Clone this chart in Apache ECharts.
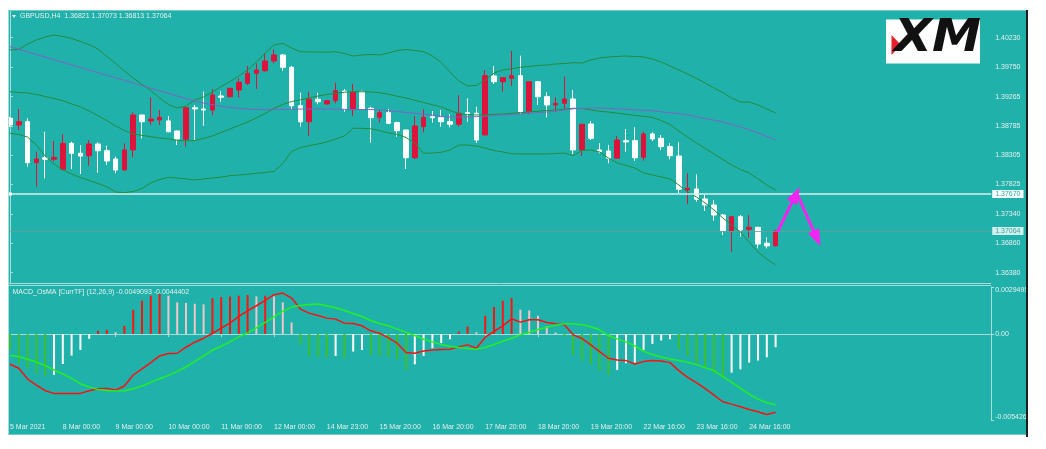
<!DOCTYPE html>
<html><head><meta charset="utf-8">
<script src="https://cdn.jsdelivr.net/npm/echarts@6/dist/echarts.min.js"></script>
<style>html,body{margin:0;padding:0;background:#fff;}#c{width:1046px;height:449px;}</style>
</head><body><div id="c"></div>
<script>
// ---------- DATA ----------
const symbolName = 'GBPUSD,H4';
const indicatorName = 'MACD_OsMA [CurrTF] (12,26,9)';
const tickLabels = ['5 Mar 2021','8 Mar 00:00','9 Mar 00:00','10 Mar 00:00','11 Mar 00:00','12 Mar 00:00','14 Mar 23:00','15 Mar 20:00','16 Mar 20:00','17 Mar 20:00','18 Mar 20:00','19 Mar 20:00','22 Mar 16:00','23 Mar 16:00','24 Mar 16:00'];
const barsPerTick = 6;
const priceTicks = [1.36380,1.36860,1.37340,1.37825,1.38305,1.38785,1.39265,1.39750,1.40230];
const macdTicks = [-0.005426, 0, 0.0029495];
const macdTickText = ['-0.005426', '0.00', '0.0029495'];
const levelLine = 1.37670;
const bidLine = 1.37064;

const open = [1.38910,1.38800,1.38854,1.38183,1.38264,1.38238,1.38074,1.38500,1.38336,1.38297,
1.38489,1.38379,1.38243,1.38063,1.38391,1.38964,1.38866,1.38882,1.38866,1.38702,
1.38566,1.39083,1.39062,1.39046,1.39275,1.39264,1.39373,1.39483,1.39647,1.39689,
1.39848,1.39947,1.39745,1.39116,1.38854,1.39221,1.39144,1.39198,1.39357,1.39062,
1.39346,1.39074,1.38926,1.39002,1.38838,1.38718,1.38264,1.38772,1.38936,1.38920,
1.38854,1.38812,1.39002,1.38992,1.38636,1.39603,1.39509,1.39565,1.39608,1.39018,
1.39509,1.39264,1.39128,1.39155,1.39226,1.38391,1.38816,1.38391,1.38374,1.38255,
1.38543,1.38543,1.38271,1.38653,1.38582,1.38445,1.38292,1.37735,1.37752,1.37588,
1.37490,1.37326,1.37069,1.37298,1.37092,1.37124,1.36862,1.36821];
const close = [1.38800,1.38854,1.38183,1.38243,1.38238,1.38271,1.38500,1.38336,1.38292,1.38489,
1.38379,1.38210,1.38063,1.38391,1.38964,1.38854,1.38898,1.38926,1.38690,1.38571,
1.39083,1.39062,1.39046,1.39291,1.39254,1.39401,1.39499,1.39647,1.39701,1.39848,
1.39947,1.39745,1.39116,1.38854,1.39221,1.39182,1.39198,1.39362,1.39062,1.39336,
1.39062,1.38920,1.39002,1.38828,1.38707,1.38264,1.38784,1.38926,1.38920,1.38854,
1.38812,1.38992,1.38980,1.38554,1.39608,1.39509,1.39575,1.39608,1.39018,1.39509,
1.39264,1.39128,1.39155,1.39226,1.38391,1.38812,1.38582,1.38363,1.38255,1.38554,
1.38522,1.38264,1.38653,1.38571,1.38445,1.38297,1.37747,1.37763,1.37583,1.37490,
1.37326,1.37069,1.37298,1.37080,1.37124,1.36851,1.36821,1.37064];
const low = [1.38767,1.38718,1.38117,1.37789,1.37927,1.38199,1.38074,1.38079,1.37997,1.38133,
1.38019,1.38145,1.38009,1.38063,1.38271,1.38582,1.38800,1.38800,1.38680,1.38472,
1.38445,1.38554,1.38788,1.38964,1.39182,1.39254,1.39247,1.39455,1.39390,1.39673,
1.39811,1.39689,1.39057,1.38772,1.38620,1.39139,1.39139,1.39155,1.39018,1.38947,
1.39046,1.38510,1.38838,1.38816,1.38608,1.38079,1.38243,1.38680,1.38838,1.38772,
1.38762,1.38772,1.38854,1.38510,1.38636,1.39472,1.39346,1.39439,1.38980,1.38975,
1.39128,1.38926,1.39018,1.39057,1.38325,1.38292,1.38554,1.38336,1.38173,1.38255,
1.38363,1.38210,1.38215,1.38538,1.38391,1.38238,1.37681,1.37506,1.37544,1.37391,
1.37232,1.36998,1.36725,1.36970,1.36954,1.36780,1.36780,1.36813];
const high = [1.38931,1.39062,1.38910,1.38363,1.38690,1.38538,1.38648,1.38526,1.38472,1.38554,
1.38517,1.38461,1.38281,1.38500,1.39008,1.38964,1.39254,1.39046,1.38947,1.38707,
1.39100,1.39128,1.39346,1.39385,1.39357,1.39401,1.39565,1.39766,1.39811,1.39974,
1.40040,1.39963,1.39766,1.39329,1.39346,1.39329,1.39205,1.39493,1.39390,1.39472,
1.39362,1.39100,1.39046,1.39062,1.38854,1.38718,1.38947,1.39057,1.39029,1.39046,
1.38980,1.39291,1.39237,1.39100,1.39701,1.39766,1.39575,1.40012,1.39935,1.39509,
1.39509,1.39336,1.39254,1.39591,1.39373,1.38812,1.38866,1.38500,1.38472,1.38620,
1.38735,1.38762,1.38690,1.38680,1.38636,1.38500,1.38517,1.38009,1.37993,1.37665,
1.37572,1.37342,1.37298,1.37326,1.37326,1.37134,1.36961,1.37073];

const bbUpper = [1.40029,1.40037,1.40127,1.40192,1.40241,1.40274,1.40250,1.40217,1.40168,1.40115,
1.40045,1.39922,1.39807,1.39685,1.39570,1.39463,1.39365,1.39242,1.39136,1.39078,
1.39111,1.39210,1.39259,1.39341,1.39431,1.39509,1.39603,1.39701,1.39832,1.39979,
1.40110,1.40138,1.40061,1.40001,1.39996,1.39996,1.39991,1.40001,1.39971,1.39930,
1.39947,1.39955,1.39947,1.39979,1.40020,1.40037,1.40020,1.40001,1.39930,1.39824,
1.39668,1.39521,1.39439,1.39447,1.39537,1.39652,1.39701,1.39722,1.39745,1.39758,
1.39775,1.39783,1.39799,1.39807,1.39820,1.39816,1.39865,1.39897,1.39914,1.39922,
1.39930,1.39922,1.39914,1.39881,1.39832,1.39766,1.39701,1.39635,1.39562,1.39488,
1.39406,1.39332,1.39242,1.39177,1.39177,1.39128,1.39062,1.38997];
const bbMiddle = [1.39346,1.39332,1.39324,1.39300,1.39267,1.39234,1.39198,1.39144,1.39098,1.39029,
1.38952,1.38874,1.38784,1.38710,1.38653,1.38631,1.38608,1.38587,1.38571,1.38549,
1.38538,1.38546,1.38579,1.38620,1.38677,1.38735,1.38792,1.38849,1.38915,1.38988,
1.39074,1.39136,1.39185,1.39213,1.39242,1.39275,1.39300,1.39319,1.39336,1.39346,
1.39344,1.39341,1.39329,1.39303,1.39272,1.39242,1.39205,1.39169,1.39131,1.39095,
1.39038,1.38988,1.38972,1.38964,1.38969,1.38975,1.38980,1.38992,1.39002,1.39016,
1.39026,1.39038,1.39046,1.39057,1.39074,1.39070,1.39046,1.39024,1.39013,1.38993,
1.38975,1.38956,1.38941,1.38923,1.38874,1.38808,1.38702,1.38603,1.38505,1.38418,
1.38325,1.38235,1.38145,1.38071,1.38014,1.37916,1.37817,1.37735];
const bbLower = [1.38664,1.38644,1.38603,1.38472,1.38292,1.38161,1.38063,1.37997,1.37940,1.37891,
1.37842,1.37789,1.37703,1.37691,1.37711,1.37760,1.37850,1.37907,1.37943,1.37932,
1.37916,1.37899,1.37916,1.37932,1.37948,1.37970,1.37981,1.37994,1.38009,1.38022,
1.38038,1.38169,1.38366,1.38432,1.38461,1.38489,1.38522,1.38571,1.38620,1.38746,
1.38746,1.38738,1.38707,1.38669,1.38644,1.38595,1.38505,1.38336,1.38341,1.38353,
1.38391,1.38472,1.38472,1.38456,1.38423,1.38382,1.38358,1.38328,1.38325,1.38325,
1.38325,1.38325,1.38333,1.38341,1.38300,1.38382,1.38391,1.38358,1.38259,1.38178,
1.38137,1.38096,1.38014,1.37981,1.37948,1.37916,1.37817,1.37703,1.37621,1.37522,
1.37408,1.37277,1.37162,1.37047,1.36884,1.36720,1.36605,1.36507];
const maSlow = [1.40083,1.40040,1.39997,1.39955,1.39912,1.39870,1.39827,1.39784,1.39742,1.39699,
1.39657,1.39614,1.39573,1.39531,1.39488,1.39445,1.39403,1.39360,1.39318,1.39275,
1.39232,1.39193,1.39160,1.39133,1.39106,1.39087,1.39074,1.39062,1.39054,1.39051,
1.39052,1.39055,1.39059,1.39062,1.39062,1.39062,1.39062,1.39059,1.39057,1.39055,
1.39054,1.39052,1.39049,1.39038,1.39021,1.39005,1.38992,1.38977,1.38959,1.38941,
1.38931,1.38931,1.38934,1.38936,1.38944,1.38956,1.38964,1.38969,1.38980,1.38992,
1.39002,1.39013,1.39026,1.39046,1.39065,1.39074,1.39075,1.39079,1.39074,1.39065,
1.39057,1.39049,1.39041,1.39033,1.39016,1.39000,1.38988,1.38964,1.38939,1.38906,
1.38879,1.38849,1.38808,1.38767,1.38723,1.38669,1.38612,1.38554];

const macdLine = [-0.0018996,-0.0021515,-0.0028232,-0.0032010,-0.0035578,-0.0037257,-0.0037257,-0.0037257,-0.0037257,-0.0035578,
-0.0034319,-0.0034109,-0.0035158,-0.0032639,-0.0025713,-0.0021935,-0.0017946,-0.0013748,-0.0012279,-0.0012069,
-0.0008291,-0.0005143,-0.0002624,0.0000315,0.0003673,0.0006822,0.0011020,0.0014588,0.0017737,0.0021095,
0.0024663,0.0025713,0.0022564,0.0015638,0.0013119,0.0011650,0.0009970,0.0009341,0.0006822,0.0006612,
0.0005143,0.0001994,0.0000525,-0.0002414,-0.0005772,-0.0011650,-0.0012069,-0.0010600,-0.0009970,-0.0009760,
-0.0009550,-0.0008081,-0.0006822,-0.0008921,-0.0001994,0.0001574,0.0005143,0.0009550,0.0007451,0.0008921,
0.0008921,0.0007242,0.0006402,0.0005772,-0.0000525,-0.0002834,-0.0006822,-0.0011020,-0.0015218,-0.0016267,
-0.0016687,-0.0018786,-0.0017317,-0.0016687,-0.0016897,-0.0017946,-0.0022984,-0.0027182,-0.0030540,-0.0034319,
-0.0038307,-0.0042505,-0.0043974,-0.0045653,-0.0047332,-0.0048802,-0.0050481,-0.0049093];
const signalLine = [-0.0013539,-0.0014168,-0.0015847,-0.0017527,-0.0019836,-0.0022564,-0.0025083,-0.0027812,-0.0031170,-0.0033269,
-0.0034738,-0.0035368,-0.0035788,-0.0035578,-0.0034319,-0.0032639,-0.0030331,-0.0028022,-0.0025923,-0.0023404,
-0.0020675,-0.0017107,-0.0013748,-0.0010180,-0.0007661,-0.0004933,-0.0001784,0.0000735,0.0003883,0.0007242,
0.0010810,0.0014378,0.0016897,0.0017946,0.0018576,0.0018786,0.0017737,0.0016477,0.0014798,0.0012909,
0.0011020,0.0008501,0.0006612,0.0005143,0.0003044,0.0001154,-0.0000945,-0.0003253,-0.0004933,-0.0006612,
-0.0007661,-0.0008501,-0.0009131,-0.0009550,-0.0008501,-0.0006612,-0.0004513,-0.0002624,-0.0000525,0.0001154,
0.0002834,0.0004093,0.0005562,0.0006402,0.0006402,0.0005772,0.0004513,0.0002624,-0.0000945,-0.0003044,
-0.0004933,-0.0007451,-0.0010810,-0.0012909,-0.0014378,-0.0015638,-0.0016687,-0.0017737,-0.0019206,-0.0021095,
-0.0022984,-0.0026762,-0.0030121,-0.0034109,-0.0037677,-0.0040826,-0.0043134,-0.0044402];
const osma = [-0.000997,-0.001837,-0.002151,-0.002466,-0.002613,-0.002550,-0.001879,-0.001354,-0.000997,-0.000304,
0.000199,0.000262,0.000115,0.000514,0.001522,0.002109,0.002403,0.002508,0.002403,0.001984,
0.001942,0.001900,0.001858,0.002256,0.002319,0.002361,0.002403,0.002445,0.002361,0.002403,
0.002361,0.001984,0.000724,-0.000682,-0.001417,-0.001459,-0.001501,-0.001375,-0.001522,-0.001102,
-0.000997,-0.001312,-0.001375,-0.001438,-0.001585,-0.002256,-0.001900,-0.001375,-0.000892,-0.000577,
-0.000325,0.000157,0.000472,0.000115,0.001144,0.001690,0.002089,0.002256,0.001522,0.001480,
0.001144,0.000472,0.0000945,-0.000157,-0.001312,-0.001669,-0.001900,-0.002298,-0.002571,-0.002256,
-0.001837,-0.001795,-0.000997,-0.000619,-0.000409,-0.000325,-0.000997,-0.001375,-0.001837,-0.002151,
-0.002466,-0.002739,-0.002424,-0.002214,-0.001795,-0.001669,-0.001459,-0.000829];

// forecast arrows (bar index, price)
const arrowUp = [[87.2, 1.37047], [89.3, 1.37660]];
const arrowDown = [[89.4, 1.37686], [91.7, 1.36940]];

// ---------- CHART ----------
const SLOTS = 112;
const TEAL = '#20b2aa', FRAME = '#a6ddd8', TXT = '#e6eeee', FONT = 'Liberation Sans', MAGENTA = '#f624f0';
const cats = Array.from({length: SLOTS}, (_, i) => String(i));
const candles = open.map((o, i) => [o, close[i], low[i], high[i]]);
const histData = osma.map((v, i) => {
  const prev = i > 0 ? osma[i - 1] : 0;
  const rising = v > prev;
  const c = v >= 0 ? (rising ? '#ff1414' : '#f3c4ca') : (rising ? '#ffffff' : '#3cbf2c');
  return {value: v, itemStyle: {color: c}};
});
const showTick = (idx) => idx % barsPerTick === 0 && idx / barsPerTick < tickLabels.length;
const last = open.length - 1;

function arrowSeries(pts, rot) {
  return {type: 'line', xAxisIndex: 2, yAxisIndex: 0, z: 6, showSymbol: true, silent: true,
    lineStyle: {color: MAGENTA, width: 3}, itemStyle: {color: MAGENTA},
    data: [{value: pts[0], symbol: 'none'}, {value: pts[1], symbol: 'triangle', symbolSize: [12, 17], symbolRotate: rot}]};
}

const chart = echarts.init(document.getElementById('c'), null, {renderer: 'canvas'});
const option = {
  animation: false,
  backgroundColor: '#ffffff',
  textStyle: {fontFamily: FONT},
  grid: [
    {left: 5.6, top: 11, width: 985.6, height: 272},
    {left: 5.6, top: 287, width: 985.6, height: 133.5}
  ],
  xAxis: [
    {type: 'category', gridIndex: 0, data: cats, boundaryGap: true, show: false},
    {type: 'category', gridIndex: 1, data: cats, boundaryGap: true,
      axisLine: {show: true, lineStyle: {color: FRAME, width: 1}},
      axisTick: {show: true, alignWithLabel: true, interval: showTick, length: 3, lineStyle: {color: FRAME}},
      axisLabel: {interval: showTick, align: 'left', color: TXT, fontSize: 7, fontFamily: FONT, margin: 3,
        formatter: (v, idx) => (idx % barsPerTick === 0 ? (tickLabels[idx / barsPerTick] || '') : '')},
      splitLine: {show: false}},
    {type: 'value', gridIndex: 0, min: -0.5, max: SLOTS - 0.5, show: false}
  ],
  yAxis: [
    {type: 'value', gridIndex: 0, position: 'right', min: 1.36212, max: 1.40667,
      axisLine: {show: true, lineStyle: {color: FRAME}},
      axisTick: {show: true, customValues: priceTicks, length: 3, lineStyle: {color: FRAME}},
      axisLabel: {customValues: priceTicks, formatter: v => v.toFixed(5), color: TXT, fontSize: 7, fontFamily: FONT, margin: 4},
      splitLine: {show: false}},
    {type: 'value', gridIndex: 1, position: 'right', min: macdTicks[0], max: macdTicks[2],
      axisLine: {show: true, lineStyle: {color: FRAME}},
      axisTick: {show: true, customValues: macdTicks, length: 3, lineStyle: {color: FRAME}},
      axisLabel: {customValues: macdTicks, color: TXT, fontSize: 7, fontFamily: FONT, margin: 4,
        verticalAlignMinLabel: 'bottom', verticalAlignMaxLabel: 'top',
        formatter: v => { let b = 0; macdTicks.forEach((t, k) => { if (Math.abs(t - v) < Math.abs(macdTicks[b] - v)) b = k; }); return macdTickText[b]; }},
      splitLine: {show: false}}
  ],
  series: [
    {type: 'candlestick', name: symbolName, xAxisIndex: 0, yAxisIndex: 0, data: candles, barWidth: 5, z: 2,
      itemStyle: {color: '#dc143c', color0: '#ffffff', borderColor: '#dc143c', borderColor0: '#ffffff', borderWidth: 1}},
    {type: 'line', name: 'BB upper', xAxisIndex: 0, yAxisIndex: 0, data: bbUpper, showSymbol: false, z: 3, lineStyle: {color: '#238c3c', width: 1}},
    {type: 'line', name: 'BB middle', xAxisIndex: 0, yAxisIndex: 0, data: bbMiddle, showSymbol: false, z: 3, lineStyle: {color: '#238c3c', width: 1}},
    {type: 'line', name: 'BB lower', xAxisIndex: 0, yAxisIndex: 0, data: bbLower, showSymbol: false, z: 3, lineStyle: {color: '#238c3c', width: 1}},
    {type: 'line', name: 'MA', xAxisIndex: 0, yAxisIndex: 0, data: maSlow, showSymbol: false, z: 3, lineStyle: {color: '#7f62c6', width: 1},
      markLine: {silent: true, symbol: ['none', 'none'], animation: false, precision: 5,
        data: [
          {yAxis: levelLine, lineStyle: {color: '#d4efec', width: 1.5, type: 'solid'},
            label: {show: true, position: 'end', formatter: levelLine.toFixed(5), backgroundColor: '#ffffff', color: TEAL, fontSize: 7, fontFamily: FONT, padding: [1, 3, 0, 3], distance: 1}},
          {yAxis: bidLine, lineStyle: {color: '#6f9a97', width: 1, type: 'solid', opacity: 0.8},
            label: {show: true, position: 'end', formatter: bidLine.toFixed(5), backgroundColor: '#ffffff', color: '#1c8f88', fontSize: 7, fontFamily: FONT, padding: [1, 3, 0, 3], distance: 1}}
        ]}},
    arrowSeries(arrowUp, -27),
    arrowSeries(arrowDown, -156),
    {type: 'bar', name: 'OsMA', xAxisIndex: 1, yAxisIndex: 1, data: histData, barWidth: 2, z: 2},
    {type: 'line', name: 'MACD', xAxisIndex: 1, yAxisIndex: 1, data: macdLine, showSymbol: false, z: 3, lineStyle: {color: '#ff1010', width: 1.5}},
    {type: 'line', name: 'Signal', xAxisIndex: 1, yAxisIndex: 1, data: signalLine, showSymbol: false, z: 3, lineStyle: {color: '#22f022', width: 1.5}}
  ],
  graphic: [
    {type: 'rect', z: -10, silent: true, shape: {x: 8, y: 10, width: 1018, height: 425}, style: {fill: TEAL}},
    {type: 'rect', z: 100, silent: true, shape: {x: 0, y: 0, width: 8, height: 449}, style: {fill: '#ffffff'}},
    {type: 'line', z: 101, silent: true, shape: {x1: 8.5, y1: 10, x2: 8.5, y2: 435}, style: {stroke: FRAME, lineWidth: 1}},
    {type: 'line', z: 101, silent: true, shape: {x1: 8, y1: 10.5, x2: 1026, y2: 10.5}, style: {stroke: '#6fcbc4', lineWidth: 1}},
    {type: 'line', z: 101, silent: true, shape: {x1: 8, y1: 283.5, x2: 991, y2: 283.5}, style: {stroke: FRAME, lineWidth: 1}},
    {type: 'line', z: 101, silent: true, shape: {x1: 8, y1: 285.5, x2: 991, y2: 285.5}, style: {stroke: FRAME, lineWidth: 1}},
    {type: 'line', z: 101, silent: true, shape: {x1: 8, y1: 434.5, x2: 1026, y2: 434.5}, style: {stroke: '#6fcbc4', lineWidth: 1}},
    {type: 'line', z: 101, silent: true, shape: {x1: 1027, y1: 10, x2: 1027, y2: 437}, style: {stroke: '#1e1e1e', lineWidth: 2}},
    {type: 'rect', z: 101, silent: true, shape: {x: 9, y: 192.5, width: 3, height: 3}, style: {fill: '#ffffff'}},
    {type: 'polygon', z: 102, silent: true, shape: {points: [[12, 15], [16, 15], [14, 18]]}, style: {fill: TXT}},
    {type: 'text', z: 102, silent: true, x: 20, y: 16.5,
      style: {text: symbolName + '  ' + [open[last], high[last], low[last], close[last]].map(v => v.toFixed(5)).join(' '),
        fill: TXT, font: '7px "Liberation Sans"', textVerticalAlign: 'middle', verticalAlign: 'middle'}},
    {type: 'text', z: 102, silent: true, x: 12.5, y: 292,
      style: {text: indicatorName + ' ' + macdLine[last].toFixed(7) + ' ' + signalLine[last].toFixed(7),
        fill: TXT, font: '7px "Liberation Sans"', textVerticalAlign: 'middle', verticalAlign: 'middle'}},
    {type: 'rect', z: 102, silent: true, shape: {x: 886, y: 19.5, width: 94, height: 44}, style: {fill: '#ffffff'}},
    {type: 'polygon', z: 103, silent: true, shape: {points: [[891.5, 35], [901, 45], [891.5, 55]]}, style: {fill: '#e62129'}},
    {type: 'text', z: 103, silent: true, x: 894, y: 40, scaleX: 1.12,
      style: {text: 'XM', fill: '#111111', font: 'italic 900 44px "DejaVu Sans"', textVerticalAlign: 'middle', verticalAlign: 'middle'}}
  ]
};
chart.setOption(option);
</script>
</body></html>
